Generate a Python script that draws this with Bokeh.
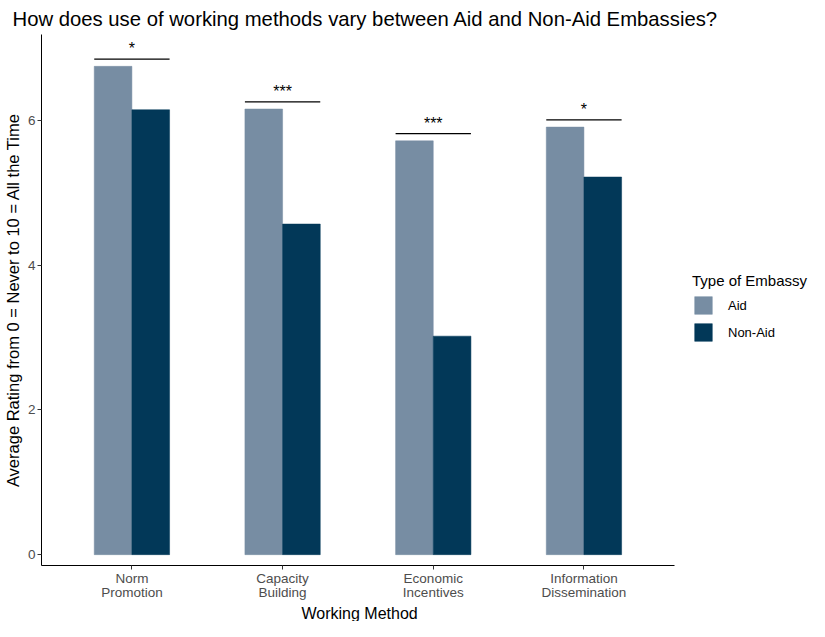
import numpy as np
from bokeh.plotting import figure
from bokeh.models import FixedTicker, Legend, LegendItem, ColumnDataSource, Title
from bokeh.embed import file_html
from bokeh.resources import INLINE

# ---- data ----
methods = ["Norm Promotion", "Capacity Building", "Economic Incentives", "Information Dissemination"]
method_labels = ["Norm\nPromotion", "Capacity\nBuilding", "Economic\nIncentives", "Information\nDissemination"]
aid = [6.75, 6.16, 5.72, 5.91]
non_aid = [6.15, 4.57, 3.02, 5.22]
significance = ["*", "***", "***", "*"]
y_ticks = [0, 2, 4, 6]
groups = ["Aid", "Non-Aid"]

AID_COLOR = "#778DA3"
NONAID_COLOR = "#023858"
FONT = "Liberation Sans"

idx = np.arange(1, len(methods) + 1)
bw = 0.25
X0, X1 = 0.4, 4.6           # extent of the categorical axis
x_end = 5.497               # frame continues to the right to host the legend

p = figure(width=809, height=621, output_backend="svg", toolbar_location=None,
           x_range=(X0, x_end), y_range=(-0.15, 7.19),
           min_border_left=34, min_border_right=0, min_border_top=32, min_border_bottom=0)

src_aid = ColumnDataSource(dict(x=idx - bw / 2, top=aid))
src_non = ColumnDataSource(dict(x=idx + bw / 2, top=non_aid))
r_aid = p.vbar(x="x", top="top", width=bw, bottom=0, source=src_aid,
               fill_color=AID_COLOR, line_color=AID_COLOR, line_width=0.5)
r_non = p.vbar(x="x", top="top", width=bw, bottom=0, source=src_non,
               fill_color=NONAID_COLOR, line_color=NONAID_COLOR, line_width=0.5)

# significance brackets
sig_y = [max(a, n) + 0.1 for a, n in zip(aid, non_aid)]
p.segment(x0=list(idx - bw), x1=list(idx + bw), y0=sig_y, y1=sig_y, line_color="black", line_width=1.2)
p.text(x=list(idx), y=[s + 0.14 for s in sig_y], text=significance, text_align="center",
       text_baseline="alphabetic", text_font_size="16px", text_color="black",
       text_font={"value": FONT})

# title
p.title.text = "How does use of working methods vary between Aid and Non-Aid Embassies?"
p.title.text_font = FONT
p.title.text_font_size = "20.3px"
p.title.text_font_style = "normal"
p.title.text_color = "black"
p.title.align = "left"
p.title.offset = -29
p.title.standoff = 10

# axes
p.xgrid.visible = False
p.ygrid.visible = False
p.outline_line_color = None

p.xaxis.ticker = FixedTicker(ticks=list(idx))
p.xaxis.bounds = (X0, X1)
p.xaxis.major_label_overrides = {int(i): lab for i, lab in zip(idx, method_labels)}
p.yaxis.ticker = FixedTicker(ticks=y_ticks)
p.yaxis.axis_label = "Average Rating from 0 = Never to 10 = All the Time"

for ax in (p.xaxis[0], p.yaxis[0]):
    ax.axis_line_color = "black"
    ax.axis_line_width = 1
    ax.major_tick_line_color = "#333333"
    ax.major_tick_out = 4
    ax.major_tick_in = 0
    ax.minor_tick_line_color = None
    ax.major_label_text_font = FONT
    ax.major_label_text_font_size = "13.5px"
    ax.major_label_text_color = "#4d4d4d"
    ax.major_label_text_line_height = 0.95
    ax.axis_label_text_font = FONT
    ax.axis_label_text_font_style = "normal"
    ax.axis_label_text_color = "black"
p.yaxis.axis_label_text_font_size = "16.5px"
p.xaxis.major_label_standoff = 1
p.yaxis.major_label_standoff = 2
p.yaxis.axis_label_standoff = 3

# x-axis title, centred under the axis bounds (not under the wider frame)
xlab = Title(text="Working Method", text_font=FONT, text_font_size="16px",
             text_font_style="normal", text_color="black", align="left",
             offset=260, standoff=0, text_line_height=1.0)
p.add_layout(xlab, "below")

legend = Legend(items=[LegendItem(label=groups[0], renderers=[r_aid]),
                       LegendItem(label=groups[1], renderers=[r_non])],
                location=(651, 222), title="Type of Embassy",
                title_text_font=FONT, title_text_font_size="15px", title_text_font_style="normal",
                title_text_color="black", title_standoff=5,
                label_text_font=FONT, label_text_font_size="13px", label_text_color="black",
                glyph_width=22, glyph_height=22, label_standoff=14, spacing=5,
                padding=0, margin=0, border_line_alpha=0, background_fill_alpha=0)
p.add_layout(legend)

open("out.html", "w").write(file_html(p, INLINE))
